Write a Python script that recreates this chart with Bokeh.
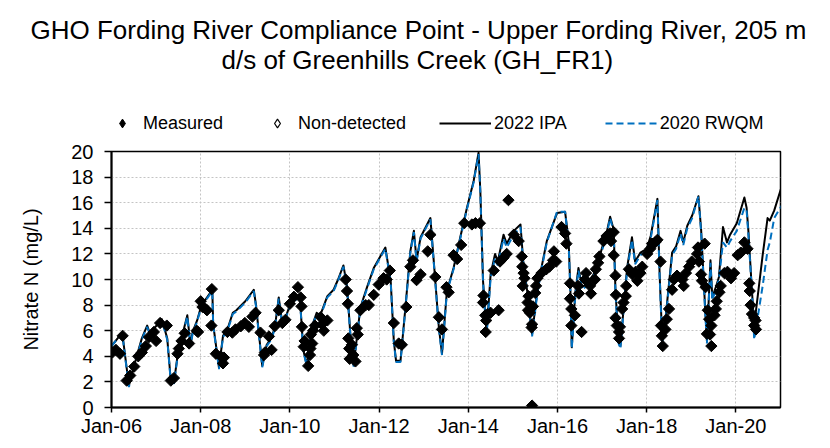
import math
import numpy as np
from bokeh.plotting import figure
from bokeh.layouts import column
from bokeh.models import (FixedTicker, Legend, LegendItem, Title, ColumnDataSource, Range1d)
from bokeh.embed import file_html
from bokeh.resources import INLINE

FONT = "Liberation Sans"

title_lines = ["GHO Fording River Compliance Point - Upper Fording River, 205 m",
               "d/s of Greenhills Creek (GH_FR1)"]
y_label = "Nitrate N (mg/L)"
x_ticks = [2006, 2008, 2010, 2012, 2014, 2016, 2018, 2020]
x_tick_labels = ["Jan-06", "Jan-08", "Jan-10", "Jan-12", "Jan-14", "Jan-16", "Jan-18", "Jan-20"]
y_ticks = [0, 2, 4, 6, 8, 10, 12, 14, 16, 18, 20]

# 2022 IPA model (decimal year, mg/L)
ipa_year = [2006.00, 2006.24, 2006.39, 2006.55, 2006.68, 2006.80, 2006.86, 2007.06, 2007.13, 2007.25,
            2007.32, 2007.40, 2007.51, 2007.62, 2007.70, 2007.77, 2007.82, 2007.92, 2008.00, 2008.12,
            2008.26, 2008.28, 2008.41, 2008.50, 2008.60, 2008.72, 2008.80, 2009.00, 2009.19, 2009.24,
            2009.38, 2009.48, 2009.58, 2009.66, 2009.75, 2009.82, 2009.90, 2010.00, 2010.10, 2010.22,
            2010.30, 2010.38, 2010.50, 2010.60, 2010.68, 2010.84, 2010.98, 2011.08, 2011.20, 2011.28,
            2011.36, 2011.43, 2011.58, 2011.73, 2011.88, 2012.14, 2012.26, 2012.33, 2012.38, 2012.48,
            2012.59, 2012.70, 2012.78, 2012.84, 2012.93, 2013.15, 2013.26, 2013.34, 2013.41, 2013.52,
            2013.67, 2013.82, 2013.97, 2014.12, 2014.23, 2014.27, 2014.33, 2014.41, 2014.50, 2014.60,
            2014.66, 2014.79, 2014.86, 2015.02, 2015.17, 2015.23, 2015.32, 2015.43, 2015.54, 2015.61,
            2015.76, 2015.99, 2016.17, 2016.25, 2016.29, 2016.32, 2016.40, 2016.47, 2016.55, 2016.66,
            2016.81, 2016.96, 2017.11, 2017.18, 2017.26, 2017.30, 2017.37, 2017.41, 2017.56, 2017.67,
            2017.74, 2017.86, 2018.00, 2018.09, 2018.24, 2018.29, 2018.35, 2018.42, 2018.57, 2018.66,
            2018.76, 2018.82, 2018.91, 2019.02, 2019.16, 2019.22, 2019.31, 2019.35, 2019.43, 2019.47,
            2019.55, 2019.62, 2019.71, 2019.80, 2019.87, 2020.02, 2020.19, 2020.24, 2020.28, 2020.36,
            2020.41, 2020.60, 2020.71, 2020.76, 2020.86, 2021.03]
ipa_val = [4.8, 5.85, 1.7, 3.8, 5.4, 6.4, 5.8, 6.6, 6.9, 5.4,
           2.5, 1.95, 4.8, 6.1, 7.2, 4.9, 5.9, 6.8, 7.8, 8.5,
           9.2, 6.5, 3.1, 5.6, 6.1, 7.4, 7.6, 8.3, 9.2, 8.0,
           3.25, 4.9, 5.4, 6.2, 8.6, 6.8, 7.0, 8.0, 8.4, 8.8,
           4.5, 3.3, 6.4, 7.4, 7.2, 8.7, 9.2, 10.0, 11.1, 9.5,
           5.5, 3.3, 7.8, 9.4, 10.9, 12.5, 9.9, 5.2, 3.65, 3.65,
           7.8, 12.2, 13.8, 11.5, 13.3, 14.8, 9.9, 6.25, 4.2, 9.1,
           10.9, 13.3, 15.6, 17.7, 19.9, 16.9, 9.9, 5.75, 10.4, 12.0,
           11.4, 13.5, 12.8, 13.8, 14.3, 11.5, 9.1, 5.75, 8.85, 10.4,
           13.0, 15.2, 15.3, 13.0, 9.1, 4.7, 9.0, 10.9, 9.4, 9.7,
           10.4, 12.0, 13.8, 14.9, 13.9, 9.1, 5.2, 4.8, 10.9, 13.3,
           11.4, 12.1, 12.4, 13.4, 16.3, 10.4, 5.1, 6.9, 12.1, 12.6,
           13.8, 12.9, 14.2, 15.0, 16.5, 13.9, 7.8, 5.2, 11.5, 8.6,
           9.4, 10.2, 14.1, 12.9, 13.5, 14.4, 16.4, 15.6, 13.8, 9.1,
           6.4, 11.9, 14.8, 14.6, 15.4, 17.3]

# 2020 RWQM model (decimal year, mg/L)
rwqm_year = ipa_year
rwqm_val = [4.8, 5.8, 1.6, 3.7, 5.3, 6.3, 5.7, 6.5, 6.8, 5.3,
            2.4, 1.85, 4.7, 6.0, 7.1, 4.8, 5.8, 6.7, 7.7, 8.4,
            9.1, 6.4, 3.0, 5.5, 6.0, 7.3, 7.5, 8.2, 9.1, 7.9,
            3.15, 4.8, 5.3, 6.1, 8.5, 6.7, 6.9, 7.9, 8.3, 8.7,
            4.4, 3.2, 6.3, 7.3, 7.1, 8.6, 9.1, 9.9, 11.0, 9.4,
            5.4, 3.2, 7.7, 9.3, 10.8, 12.4, 9.8, 5.1, 3.55, 3.55,
            7.7, 12.1, 13.7, 11.4, 13.2, 14.7, 9.8, 6.15, 4.1, 9.0,
            10.8, 13.2, 15.5, 17.6, 19.8, 16.8, 9.8, 5.65, 10.1, 11.7,
            11.1, 13.2, 12.5, 13.5, 14.1, 11.3, 8.9, 5.55, 8.7, 10.2,
            12.9, 15.3, 15.3, 12.8, 8.9, 4.6, 8.8, 10.7, 9.2, 9.5,
            10.2, 11.8, 13.6, 14.8, 13.7, 8.9, 5.0, 4.6, 10.7, 13.1,
            11.2, 11.9, 12.2, 13.2, 16.2, 10.2, 4.9, 6.7, 11.9, 12.4,
            13.6, 12.7, 14.0, 14.8, 16.5, 13.7, 7.6, 5.0, 11.3, 8.4,
            9.2, 10.0, 12.9, 12.5, 13.0, 13.8, 15.6, 15.4, 13.5, 9.0,
            5.3, 9.5, 12.3, 12.9, 14.8, 15.8]

# Measured nitrate (decimal year, mg/L)
meas_year = [2006.02, 2006.10, 2006.19, 2006.25, 2006.34, 2006.42, 2006.51, 2006.60, 2006.68, 2006.77,
             2006.84, 2006.95, 2007.00, 2007.09, 2007.24, 2007.33, 2007.40, 2007.48, 2007.51, 2007.57,
             2007.64, 2007.74, 2007.91, 2007.94, 2008.00, 2008.04, 2008.11, 2008.14, 2008.25, 2008.24,
             2008.34, 2008.45, 2008.50, 2008.52, 2008.60, 2008.71, 2008.78, 2008.90, 2008.99, 2009.08,
             2009.16, 2009.23, 2009.34, 2009.42, 2009.44, 2009.53, 2009.59, 2009.66, 2009.75, 2009.83,
             2009.90, 2010.00, 2010.09, 2010.18, 2010.24, 2010.26, 2010.27, 2010.31, 2010.33, 2010.41,
             2010.45, 2010.46, 2010.47, 2010.50, 2010.52, 2010.56, 2010.69, 2010.72, 2010.76, 2010.84,
             2011.25, 2011.28, 2011.30, 2011.31, 2011.33, 2011.34, 2011.39, 2011.42, 2011.47, 2011.50,
             2011.52, 2011.58, 2011.70, 2011.77, 2011.88, 2011.99, 2012.10, 2012.17, 2012.24, 2012.33,
             2012.44, 2012.51, 2012.61, 2012.70, 2012.76, 2012.84, 2012.93, 2013.09, 2013.15, 2013.26,
             2013.34, 2013.41, 2013.51, 2013.56, 2013.67, 2013.75, 2013.84, 2013.91, 2014.08, 2014.16,
             2014.26, 2014.90, 2014.34, 2014.33, 2014.38, 2014.40, 2014.39, 2014.43, 2014.50, 2014.68,
             2014.57, 2014.71, 2014.79, 2014.86, 2015.02, 2015.13, 2015.20, 2015.21, 2015.24, 2015.26,
             2015.22, 2015.35, 2015.33, 2015.34, 2015.38, 2015.43, 2015.45, 2015.43,
             2015.42, 2015.50, 2015.52, 2015.55, 2015.64, 2015.75, 2015.82, 2015.90, 2015.92, 2015.97,
             2016.09, 2016.17, 2016.20, 2016.28, 2016.28, 2016.31, 2016.31, 2016.39, 2016.46, 2016.48,
             2016.54, 2016.62, 2016.64, 2016.73, 2016.75, 2016.84, 2016.86, 2016.91, 2016.94, 2017.03,
             2017.10, 2017.18, 2017.20,
             2017.26, 2017.26, 2017.30, 2017.31, 2017.30, 2017.33, 2017.38, 2017.38, 2017.40, 2017.45,
             2017.48, 2017.53, 2017.54, 2017.60, 2017.68, 2017.75, 2017.79, 2017.86, 2017.90, 2018.01,
             2018.08, 2018.12, 2018.19, 2018.24, 2018.31, 2018.32, 2018.34, 2018.36, 2018.42, 2018.45,
             2018.50, 2018.57, 2018.61, 2018.68, 2018.80, 2018.83, 2018.88, 2018.95, 2019.01, 2019.13,
             2019.15, 2019.17, 2019.22, 2019.24, 2019.30, 2019.32, 2019.37, 2019.40, 2019.45, 2019.42,
             2019.35, 2019.45, 2019.52, 2019.55, 2019.57, 2019.63, 2019.66, 2019.74, 2019.81, 2019.89,
             2019.96, 2020.04, 2020.11, 2020.19, 2020.26, 2020.30, 2020.31, 2020.33, 2020.36, 2020.41,
             2020.44, 2020.41, 2020.45]
meas_val = [4.3, 4.5, 4.2, 5.6, 2.1, 2.5, 3.2, 4.0, 4.3, 4.8,
            5.5, 5.9, 5.2, 6.6, 6.4, 2.1, 2.3, 4.2, 4.6, 5.2,
            5.8, 5.0, 6.0, 5.9, 8.3, 7.85, 7.7, 7.6, 9.25, 6.4,
            4.2, 4.0, 3.45, 3.9, 5.9, 5.85, 6.1, 6.35, 6.6, 6.3,
            7.1, 7.4, 5.85, 4.1, 4.3, 5.55, 4.5, 6.35, 7.6, 6.6,
            6.85, 8.1, 8.65, 9.4, 8.6, 7.9, 6.3, 4.75, 5.2, 3.25,
            4.1, 4.6, 5.7, 5.0, 6.0, 6.4, 7.05, 6.5, 6.0, 6.8,
            10.0, 9.1, 8.1, 5.4, 4.6, 3.8, 4.9, 4.1, 3.6, 6.2,
            5.7, 7.6, 8.0, 8.0, 8.8, 9.6, 10.1, 10.0, 10.7, 6.6,
            5.0, 4.9, 7.85, 11.0, 11.5, 9.95, 10.4, 12.2, 13.5, 10.2,
            7.05, 6.1, 9.4, 9.0, 11.9, 11.6, 12.7, 14.4, 14.3, 14.4,
            14.4, 16.2, 8.75, 8.2, 7.2, 6.8, 5.9, 7.3, 7.4, 7.6,
            10.7, 11.4, 11.7, 12.0, 13.5, 13.0, 11.8, 11.0, 10.5, 10.1,
            9.5, 8.7, 8.2, 7.6, 7.4, 6.5, 7.9, 0.15,
            6.25, 8.95, 9.5, 10.1, 10.5, 10.8, 11.0, 11.5, 12.2, 11.4,
            14.1, 13.6, 12.8, 9.7, 8.5, 7.7, 6.4, 7.2, 9.5, 8.9,
            5.9, 10.0, 10.5, 9.5, 8.9, 10.0, 10.8, 11.3, 11.8, 13.0,
            13.4, 13.6, 13.0,
            13.7, 11.9, 10.3, 8.8, 7.0, 6.4, 5.9, 5.4, 6.3, 7.7,
            8.2, 8.7, 9.5, 10.8, 10.4, 10.6, 9.9, 10.5, 11.0, 12.0,
            12.4, 12.8, 12.9, 13.1, 11.4, 6.4, 5.6, 4.8, 6.1, 6.9,
            7.7, 9.2, 10.0, 10.3, 10.0, 9.5, 10.5, 11.0, 11.4, 12.0,
            12.5, 11.4, 10.4, 9.9, 12.8, 9.4, 7.6, 6.9, 6.4, 5.7,
            5.75, 4.8, 7.2, 7.7, 8.3, 9.0, 9.5, 10.5, 10.6, 10.1,
            10.5, 11.9, 12.1, 12.9, 12.4, 9.7, 9.1, 8.0, 7.3, 7.0,
            6.8, 6.4, 6.1]

nd_year = []
nd_val = []

# ---------------- header (title + legend) ----------------
HEAD_H = 139
head = figure(width=830, height=HEAD_H, x_range=Range1d(0, 1), y_range=Range1d(0, 1),
              x_axis_type=None, y_axis_type=None, output_backend="svg", toolbar_location=None,
              min_border_left=0, min_border_right=0, min_border_bottom=0, min_border_top=76)
head.title = None
head.outline_line_color = None
head.grid.visible = False
head.background_fill_color = "white"
head.border_fill_color = "white"

t2 = Title(text=title_lines[1], align="left", offset=110, vertical_align="top", standoff=0,
           text_font=FONT, text_font_size="26px", text_font_style="normal", text_color="black")
t1 = Title(text=title_lines[0], align="left", offset=-81, vertical_align="bottom", standoff=0,
           text_font=FONT, text_font_size="26px", text_font_style="normal", text_color="black")
head.add_layout(t2, "above")
head.add_layout(t1, "above")

# legend-only glyphs (placeholder source without drawable values)
e_src = ColumnDataSource(dict(x=np.array([np.nan]), y=np.array([np.nan])))
h_meas = head.scatter("x", "y", source=e_src, marker="diamond", size=10,
                      fill_color="black", line_color="black")
h_nd = head.scatter("x", "y", source=e_src, marker="diamond", size=10,
                    fill_color="white", line_color="black", line_width=1.2)
h_ipa = head.line("x", "y", source=e_src, line_color="black", line_width=2)
h_rwqm = head.line("x", "y", source=e_src, line_color="#0070C0", line_width=2, line_dash="7 4")

leg_markers = Legend(items=[LegendItem(label="Measured", renderers=[h_meas]),
                            LegendItem(label="Non-detected", renderers=[h_nd])],
                     orientation="horizontal", location=(0, 5),
                     glyph_width=22, glyph_height=22, label_height=20, label_standoff=10, spacing=43,
                     padding=0, margin=0, border_line_color=None, background_fill_alpha=0,
                     label_text_font=FONT, label_text_font_size="18px", label_text_color="black")
leg_lines = Legend(items=[LegendItem(label="2022 IPA", renderers=[h_ipa]),
                          LegendItem(label="2020 RWQM", renderers=[h_rwqm])],
                   orientation="horizontal", location=(328, 5),
                   glyph_width=52, glyph_height=22, label_height=20, label_standoff=3, spacing=38,
                   padding=0, margin=0, border_line_color=None, background_fill_alpha=0,
                   label_text_font=FONT, label_text_font_size="18px", label_text_color="black")
head.add_layout(leg_markers, "center")
head.add_layout(leg_lines, "center")

# ---------------- main chart ----------------
p = figure(width=830, height=448 - HEAD_H, x_range=Range1d(2006, 2021), y_range=Range1d(0, 20),
           output_backend="svg", toolbar_location=None,
           min_border_left=111, min_border_right=50, min_border_top=12, min_border_bottom=41)
p.title = None
p.background_fill_color = "white"
p.border_fill_color = "white"
p.outline_line_color = "black"
p.outline_line_width = 1.5

p.xaxis.ticker = FixedTicker(ticks=x_ticks)
p.xaxis.major_label_overrides = {t: l for t, l in zip(x_ticks, x_tick_labels)}
p.yaxis.ticker = FixedTicker(ticks=y_ticks)
p.xaxis.minor_tick_line_color = None
p.yaxis.minor_tick_line_color = None
for ax in (p.xaxis, p.yaxis):
    ax.axis_line_color = "black"
    ax.axis_line_width = 2
    ax.major_tick_line_color = "black"
    ax.major_tick_line_width = 1.5
    ax.major_tick_in = 0
    ax.major_label_text_font = FONT
    ax.major_label_text_font_size = "20px"
    ax.major_label_text_color = "black"
p.xaxis.major_tick_out = 5
p.yaxis.major_tick_out = 7
p.xaxis.major_label_standoff = 2
p.yaxis.major_label_standoff = 11
p.yaxis.axis_label = y_label
p.yaxis.axis_label_text_font = FONT
p.yaxis.axis_label_text_font_size = "20px"
p.yaxis.axis_label_text_font_style = "normal"
p.yaxis.axis_label_text_color = "black"
p.yaxis.axis_label_standoff = 26

p.xgrid.ticker = FixedTicker(ticks=x_ticks)
p.ygrid.ticker = FixedTicker(ticks=y_ticks)
for g in (p.xgrid, p.ygrid):
    g.grid_line_color = "#C4C4C4"
    g.grid_line_dash = "2 2"
    g.grid_line_width = 1

ipa_src = ColumnDataSource(dict(x=ipa_year, y=ipa_val))
rwqm_src = ColumnDataSource(dict(x=rwqm_year, y=rwqm_val))
meas_src = ColumnDataSource(dict(x=meas_year, y=meas_val))
nd_src = ColumnDataSource(dict(x=nd_year, y=nd_val))

p.line("x", "y", source=ipa_src, line_color="black", line_width=2, line_join="round")
p.line("x", "y", source=rwqm_src, line_color="#0070C0", line_width=2, line_dash="7 4")
p.scatter("x", "y", source=meas_src, marker="square", size=8, angle=math.pi / 4,
          fill_color="black", line_color="black")
p.scatter("x", "y", source=nd_src, marker="square", size=8, angle=math.pi / 4,
          fill_color="white", line_color="black")

layout = column(head, p, spacing=0)
open("out.html", "w").write(file_html(layout, INLINE))
